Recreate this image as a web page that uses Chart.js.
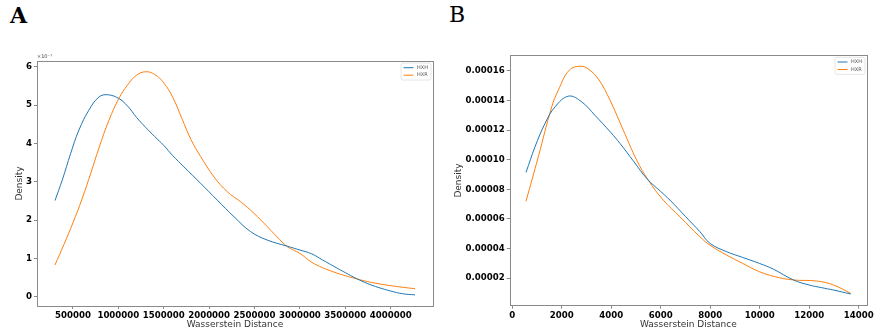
<!DOCTYPE html>
<html>
<head>
<meta charset="utf-8">
<script src="https://cdn.jsdelivr.net/npm/chart.js@4.4.1/dist/chart.umd.min.js"></script>
<style>
  html, body { margin: 0; padding: 0; background: #fff; }
  #page { position: relative; width: 881px; height: 333px; overflow: hidden; }
  .panel { position: absolute; top: 0; height: 333px; }
  .tag { position: absolute; top: 2px; font-family: "DejaVu Serif", serif; font-size: 22px; color: #000; }
</style>
</head>
<body>
<div id="page">
  <div class="tag" style="left:10px;font-weight:bold">A</div>
  <div class="tag" style="left:449px">B</div>
  <div class="panel" style="left:0;width:440px"><canvas id="chartA" width="440" height="333"></canvas></div>
  <div class="panel" style="left:440px;width:441px"><canvas id="chartB" width="441" height="333"></canvas></div>
</div>
<script>
// series names
const seriesNames = ["HXH", "HXR"];
const seriesColors = ["#1f77b4", "#ff7f0e"];

// panel A (density in units of 1e-7)
const hxhDistA = [302000, 383000, 475000, 566000, 676000, 786000, 879000, 1000000, 1100000, 1200000, 1300000, 1400000, 1500000, 1600000, 1722000, 1906000, 2090000, 2273000, 2457000, 2640000, 2860000, 3000000, 3130000, 3250000, 3370000, 3500000, 3620000, 3740000, 3870000, 4000000, 4130000, 4268000];
const hxhDensA = [2.51, 3.05, 3.74, 4.35, 4.87, 5.21, 5.27, 5.18, 4.98, 4.68, 4.42, 4.18, 3.95, 3.68, 3.39, 2.96, 2.52, 2.09, 1.70, 1.48, 1.32, 1.22, 1.12, 0.96, 0.8, 0.63, 0.48, 0.35, 0.24, 0.15, 0.08, 0.05];
const hxrDistA = [302000, 400000, 500000, 600000, 700000, 786000, 896000, 1007000, 1100000, 1200000, 1300000, 1400000, 1500000, 1600000, 1700000, 1800000, 1906000, 2053000, 2200000, 2347000, 2493000, 2640000, 2750000, 2860000, 3000000, 3130000, 3250000, 3370000, 3500000, 3620000, 3740000, 3870000, 4000000, 4130000, 4268000];
const hxrDensA = [0.83, 1.36, 1.93, 2.55, 3.25, 3.88, 4.6, 5.18, 5.52, 5.78, 5.87, 5.8, 5.58, 5.2, 4.65, 4.1, 3.66, 3.13, 2.74, 2.48, 2.18, 1.83, 1.56, 1.31, 1.13, 0.9, 0.76, 0.65, 0.55, 0.47, 0.4, 0.34, 0.29, 0.25, 0.21];
const xTicksA = [500000, 1000000, 1500000, 2000000, 2500000, 3000000, 3500000, 4000000];
const yTicksA = [0, 1, 2, 3, 4, 5, 6];

// panel B (density in units of 1e-5)
const hxhDistB = [553, 917, 1321, 1725, 2275, 2804, 3341, 3976, 4352, 4900, 5450, 5984, 6372, 7000, 7584, 7992, 8666, 9300, 9987, 10553, 11361, 11995, 12500, 12979, 13679];
const hxhDensB = [9.14, 10.87, 12.45, 13.57, 14.3, 13.91, 13.0, 11.85, 11.1, 9.9, 8.7, 7.87, 7.27, 6.16, 5.13, 4.34, 3.78, 3.4, 2.99, 2.6, 1.87, 1.53, 1.35, 1.19, 0.92];
const hxrDistB = [553, 1051, 1592, 1859, 2300, 2763, 3100, 3500, 3947, 4485, 5026, 5495, 6101, 6776, 7584, 7992, 8666, 9300, 9987, 10600, 11361, 12304, 12979, 13679];
const hxrDensB = [7.19, 10.2, 13.57, 14.7, 16.05, 16.32, 16.1, 15.4, 14.03, 12.0, 9.97, 8.62, 7.27, 6.14, 4.79, 4.22, 3.55, 3.0, 2.43, 2.1, 1.87, 1.8, 1.53, 0.97];
const xTicksB = [0, 2000, 4000, 6000, 8000, 10000, 12000, 14000];
const yTicksB = [0.00002, 0.00004, 0.00006, 0.00008, 0.00010, 0.00012, 0.00014, 0.00016];

const tickFont = { family: "DejaVu Sans", size: 8.6, weight: "bold" };
const titleFont = { family: "DejaVu Sans", size: 9 };

// box around the plot, like matplotlib spines
const framePlugin = {
  id: "frame",
  afterDraw(chart) {
    const a = chart.chartArea, ctx = chart.ctx;
    ctx.save();
    ctx.strokeStyle = "#8a8a8a";
    ctx.lineWidth = 1;
    ctx.strokeRect(Math.round(a.left) + 0.5, Math.round(a.top) + 0.5, Math.round(a.right - a.left), Math.round(a.bottom - a.top));
    ctx.restore();
  }
};

// small legend box in the top right corner
const boxLegend = {
  id: "boxLegend",
  afterDraw(chart) {
    const a = chart.chartArea, ctx = chart.ctx;
    const w = 30, h = 17;
    const x = a.right - w - 2, y = a.top + 2;
    ctx.save();
    ctx.fillStyle = "rgba(255,255,255,0.8)";
    ctx.strokeStyle = "#e0e0e0";
    ctx.lineWidth = 0.8;
    ctx.beginPath();
    ctx.roundRect(x, y, w, h, 2);
    ctx.fill();
    ctx.stroke();
    ctx.font = "5px DejaVu Sans";
    ctx.textBaseline = "middle";
    chart.data.datasets.forEach((ds, i) => {
      const ly = y + 4.7 + i * 7.5;
      ctx.strokeStyle = ds.borderColor;
      ctx.lineWidth = 1;
      ctx.beginPath();
      ctx.moveTo(x + 2.5, ly);
      ctx.lineTo(x + 12.5, ly);
      ctx.stroke();
      ctx.fillStyle = "#555";
      ctx.fillText(ds.label, x + 16, ly);
    });
    ctx.restore();
  }
};

// "x10^-7" offset label above the y axis
const offsetText = {
  id: "offsetText",
  afterDraw(chart, args, opts) {
    if (!opts.text) return;
    const ctx = chart.ctx;
    ctx.save();
    ctx.font = "5px DejaVu Sans";
    ctx.fillStyle = "#444";
    ctx.textBaseline = "bottom";
    ctx.fillText(opts.text, chart.chartArea.left, chart.chartArea.top - 2);
    ctx.restore();
  }
};

function makeChart(id, cfg) {
  const datasets = cfg.series.map((s, i) => ({
    label: seriesNames[i],
    data: s.xs.map((x, j) => ({ x: x, y: s.ys[j] * cfg.unit })),
    borderColor: seriesColors[i],
    borderWidth: 1,
    pointRadius: 0,
    fill: false,
    tension: 0.4
  }));
  return new Chart(document.getElementById(id), {
    type: "line",
    data: { datasets: datasets },
    plugins: [framePlugin, boxLegend, offsetText],
    options: {
      responsive: false,
      animation: false,
      layout: { padding: { top: cfg.top, right: cfg.right, left: 0, bottom: 0 } },
      plugins: {
        legend: { display: false },
        tooltip: { enabled: false },
        offsetText: { text: cfg.offset }
      },
      scales: {
        x: {
          type: "linear",
          min: cfg.xMin, max: cfg.xMax,
          afterFit: (s) => { s.height = cfg.xHeight; },
          afterBuildTicks: (s) => { s.ticks = cfg.xTicks.map(v => ({ value: v })); },
          grid: { drawOnChartArea: false, tickLength: 3, color: "#8a8a8a" },
          border: { display: false },
          ticks: { font: tickFont, color: "#000", padding: 2, maxRotation: 0, autoSkip: false, callback: (v) => String(v) },
          title: { display: true, text: "Wasserstein Distance", font: titleFont, color: "#333", padding: { top: 0, bottom: 3.2 } }
        },
        y: {
          type: "linear",
          min: cfg.yMin, max: cfg.yMax,
          afterFit: (s) => { s.width = cfg.yWidth; },
          afterBuildTicks: (s) => { s.ticks = cfg.yTicks.map(v => ({ value: v })); },
          grid: { drawOnChartArea: false, tickLength: 3, color: "#8a8a8a" },
          border: { display: false },
          ticks: { font: tickFont, color: "#000", padding: 2, autoSkip: false, callback: cfg.yFormat },
          title: { display: true, text: "Density", font: titleFont, color: "#333", padding: { top: cfg.yTitlePad, bottom: 0 } }
        }
      }
    }
  });
}

makeChart("chartA", {
  series: [{ xs: hxhDistA, ys: hxhDensA }, { xs: hxrDistA, ys: hxrDensA }],
  unit: 1,
  xMin: 104000, xMax: 4466000, yMin: -0.24, yMax: 6.15,
  xTicks: xTicksA, yTicks: yTicksA,
  yFormat: (v) => String(v),
  offset: "\u00d710\u207b\u2077",
  top: 61, right: 7, xHeight: 27, yWidth: 37, yTitlePad: 14.6
});

makeChart("chartB", {
  series: [{ xs: hxhDistB, ys: hxhDensB }, { xs: hxrDistB, ys: hxrDensB }],
  unit: 1e-5,
  xMin: -106, xMax: 14336, yMin: 0.0000013, yMax: 0.0001706,
  xTicks: xTicksB, yTicks: yTicksB,
  yFormat: (v) => v.toFixed(5),
  offset: "",
  top: 55.3, right: 14, xHeight: 27.3, yWidth: 69.7, yTitlePad: 12.9
});
</script>
</body>
</html>
